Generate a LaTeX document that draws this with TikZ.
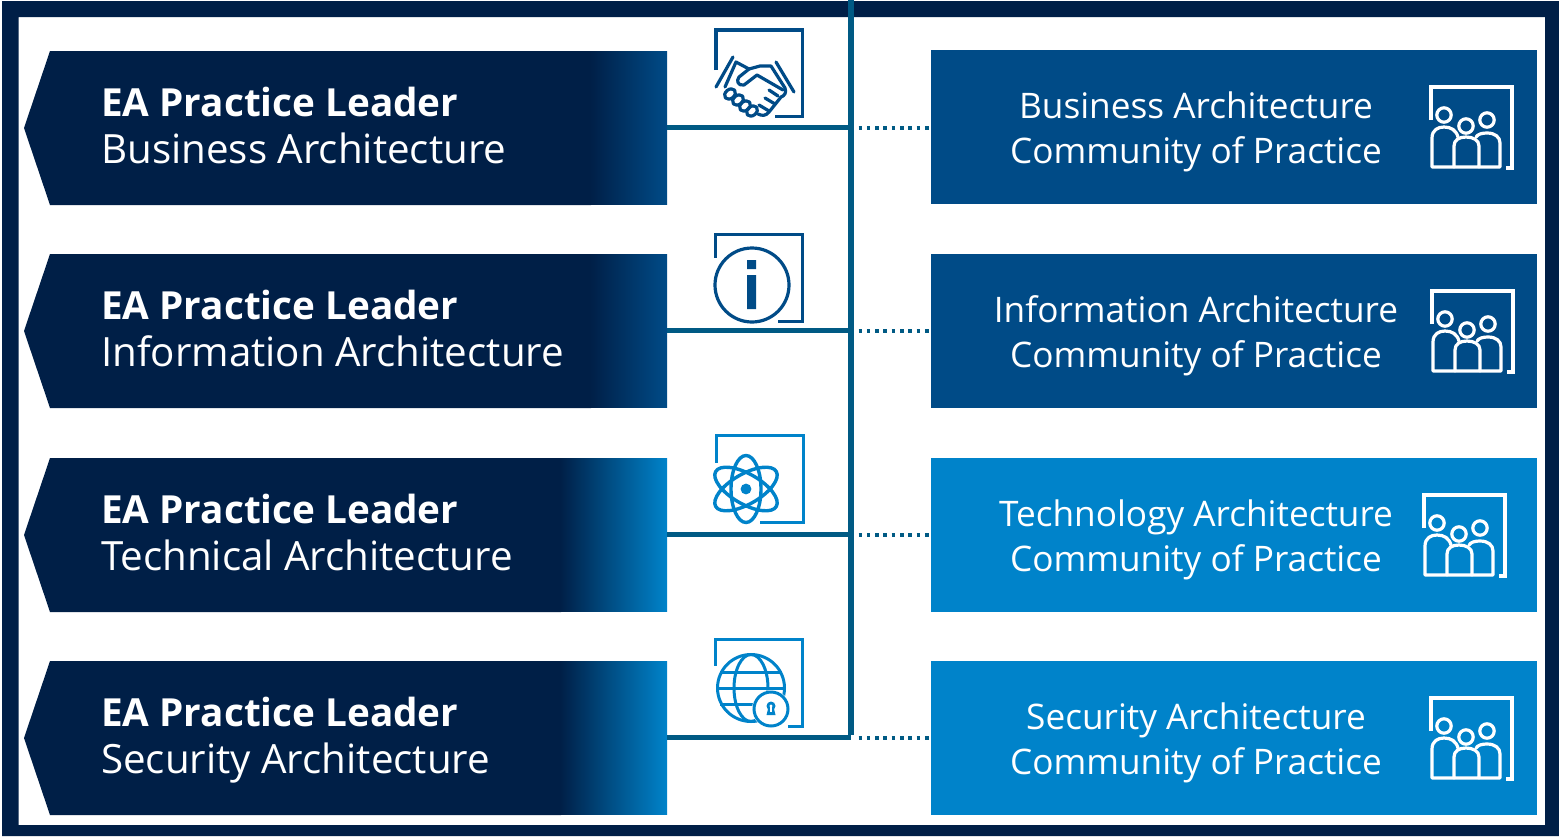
\documentclass[tikz,border=0pt]{standalone}
\usepackage{fontspec}
\setmainfont{Open Sans}
\definecolor{navy}{HTML}{001F47}
\definecolor{midblue}{HTML}{004B87}
\definecolor{liteblue}{HTML}{0083CA}
\definecolor{busblue}{HTML}{005A84}
\tikzset{
  leadtext/.style={anchor=base west,text=white,font=\fontsize{40.3}{40.3}\selectfont,inner sep=0pt},
  leadbold/.style={anchor=base west,text=white,font=\bfseries\fontsize{38.7}{38.7}\selectfont,inner sep=0pt},
  cop/.style={minimum width=606pt,minimum height=154pt,anchor=north west,inner sep=0pt,draw=none},
  coptext/.style={anchor=base,text=white,font=\fontsize{35.2}{35.2}\selectfont,inner sep=0pt},
  busline/.style={draw=busblue,line width=5.5pt},
  dotline/.style={draw=busblue,line width=4pt,dash pattern=on 3.6pt off 4.7pt},
  iconline/.style={line width=3.2pt,line cap=round,line join=round},
  frameline/.style={line width=3.4pt,line cap=butt,line join=miter},
}
% name, top y, end colour, gradient start, second line
\newcommand{\leader}[5]{%
  \fill[navy] (24,#2+77) -- (50,#2) -- (#4+1,#2) -- (#4+1,#2+154) -- (50,#2+154) -- cycle;
  \shade[left color=navy,right color=#3] (#4,#2+0.4) rectangle (667,#2+153.6);
  \node[leadbold] (#1a) at (101,#2+65.5) {EA Practice Leader};
  \node[leadtext] (#1b) at (101,#2+112) {#5};
  \coordinate (#1) at (667,#2+76.5);
}
% name, top y, fill, first line
\newcommand{\copbox}[4]{%
  \node[cop,fill=#3] (#1) at (931,#2) {};
  \node[coptext] (#1a) at (1196,#2+68) {#4};
  \node[coptext] (#1b) at (1196,#2+113) {Community of Practice};
}
% left x, top y, size, colour, left leg end, bottom start
\newcommand{\iconframe}[6]{%
  \draw[frameline,draw=#4] (#1,#2+#5) -- (#1,#2) -- (#1+#3,#2) -- (#1+#3,#2+#3) -- (#6,#2+#3);
}
% people icon, shift x, shift y
\newcommand{\people}[2]{%
  \begin{scope}[shift={(#1,#2)},draw=white]
    \iconframe{1431}{87}{81}{white}{33}{1506}
    \draw[iconline,draw=white] (1444,115) circle (7.2);
    \draw[iconline,draw=white] (1487,120) circle (7.2);
    \draw[iconline,draw=white] (1466,126) circle (7.2);
    \draw[iconline,draw=white] (1454,167) -- (1432,167) -- (1432,138) .. controls (1432,130) and (1438,127) .. (1444,127) .. controls (1451,127) and (1456,130) .. (1458,137);
    \draw[iconline,draw=white] (1454,167) -- (1454,146) .. controls (1454,140) and (1459,137) .. (1466,137) .. controls (1473,137) and (1479,140) .. (1479,146) -- (1479,167) -- (1454,167);
    \draw[iconline,draw=white] (1476,137) .. controls (1478,134) and (1482,133) .. (1487,133) .. controls (1495,133) and (1500,137) .. (1500,143) -- (1500,167) -- (1479,167);
  \end{scope}
}
\begin{document}
\begin{tikzpicture}[x=1pt,y=-1pt]
\useasboundingbox (0,0) rectangle (1559,836);
\fill[white] (0,0) rectangle (1559,836);
% outer frame
\fill[navy,even odd rule] (2,1) rectangle (1559,836) (18.5,17) rectangle (1545,825);

% leaders
\leader{la}{51}{midblue}{590}{Business Architecture}
\leader{lb}{254}{midblue}{590}{Information Architecture}
\leader{lc}{458}{liteblue}{560}{Technical Architecture}
\leader{ld}{661}{liteblue}{560}{Security Architecture}

% communities
\copbox{ca}{50}{midblue}{Business Architecture}
\copbox{cb}{254}{midblue}{Information Architecture}
\copbox{cc}{458}{liteblue}{Technology Architecture}
\copbox{cd}{661}{liteblue}{Security Architecture}

% connectors
\coordinate (top) at (851,0);
\path (top |- la) coordinate (ja);
\path (top |- lb) coordinate (jb);
\path (top |- lc) coordinate (jc);
\path (top |- ld) coordinate (jd);
\draw[draw=busblue,line width=6.5pt] (top) -- ([yshift=2.7pt]jd);
\draw[busline] (la) -- (ja);
\draw[busline] (lb) -- (jb);
\draw[busline] (lc) -- (jc);
\draw[busline] (ld) -- (jd);
\draw[dotline] ([xshift=7.5pt]ja) -- (ja -| ca.west);
\draw[dotline] ([xshift=7.5pt]jb) -- (jb -| cb.west);
\draw[dotline] ([xshift=7.5pt]jc) -- (jc -| cc.west);
\draw[dotline] ([xshift=7.5pt]jd) -- (jd -| cd.west);

% handshake icon
\iconframe{716}{30}{86.5}{midblue}{40}{775}
\begin{scope}[draw=midblue]
  \draw[iconline,draw=midblue] (733,57) -- (716,87);
  \draw[iconline,draw=midblue] (776,62) -- (794,92);
  \draw[iconline,draw=midblue] (725,87) -- (736,62) -- (749,69) -- (760,66) -- (771,66) -- (785,88) .. controls (787,93) and (784,96) .. (781,97) -- (769,112) .. controls (766,116) and (762,116) .. (758,114);
  \draw[iconline,draw=midblue] (749,69) -- (739,77) .. controls (736,81) and (738,86) .. (744,85) -- (757,75) -- (783,90);
  \draw[iconline,draw=midblue] (769,90) -- (778,96);
  \draw[iconline,draw=midblue] (765,98) -- (775,104);
  \draw[iconline,draw=midblue] (759,105) -- (769,111);
  \draw[iconline,draw=midblue,rotate around={40:(730,94)}] (730,94) ellipse (6 and 4.5);
  \draw[iconline,draw=midblue,rotate around={40:(738,100)}] (738,100) ellipse (6 and 4.5);
  \draw[iconline,draw=midblue,rotate around={40:(745,106)}] (745,106) ellipse (6 and 4.5);
  \draw[iconline,draw=midblue,rotate around={40:(752,111)}] (752,111) ellipse (6 and 4.5);
\end{scope}

% info icon
\iconframe{715.5}{234.5}{87}{midblue}{23}{778}
\draw[draw=midblue,line width=3.2pt] (752,285) circle (37);
\fill[midblue] (747,260) rectangle (756,269) (747,275) rectangle (756,309);

% atom icon
\iconframe{716.5}{435.5}{87}{liteblue}{27}{760}
\draw[line width=3.4pt,draw=liteblue] (746,489) ellipse (15 and 33.5);
\draw[line width=3.4pt,draw=liteblue,rotate around={60:(746,489)}] (746,489) ellipse (15 and 35);
\draw[line width=3.4pt,draw=liteblue,rotate around={-60:(746,489)}] (746,489) ellipse (15 and 35);
\fill[liteblue] (746,489) circle (5.4);

% globe icon
\iconframe{715.5}{639.5}{87}{liteblue}{26}{788}
\begin{scope}[line width=3pt,draw=liteblue]
  \draw (751,688) circle (33.5);
  \draw (751,688) ellipse (17 and 33.5);
  \draw (720,672) -- (782,672);
  \draw (717.5,688) -- (784.5,688);
  \draw (720,704) -- (782,704);
\end{scope}
\fill[white] (771,709) circle (19);
\draw[line width=3pt,draw=liteblue] (771,709) circle (17);
\fill[liteblue] (771,706) circle (4.5);
\fill[liteblue] (768.5,707) -- (773.5,707) -- (775.5,715) -- (766.5,715) -- cycle;
\fill[white] (771,706) circle (1.6);
\fill[white] (770.2,706) rectangle (771.8,712);

% people icons
\people{0}{0}
\people{1}{204}
\people{-7}{408}
\people{0}{611}
\end{tikzpicture}
\end{document}
